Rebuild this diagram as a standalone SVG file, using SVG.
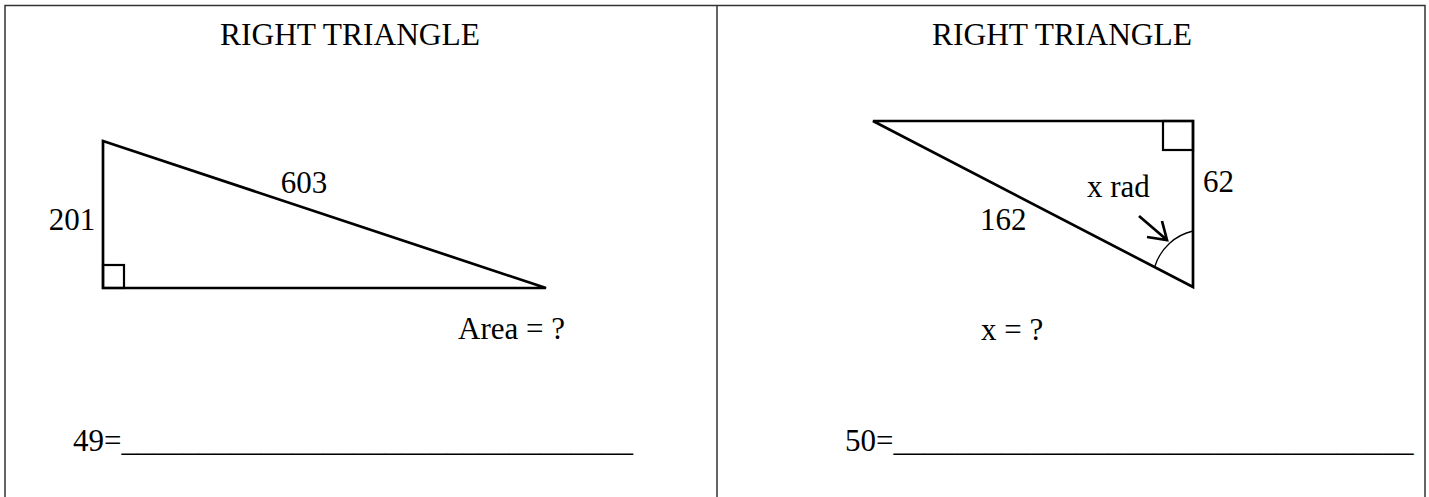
<svg xmlns="http://www.w3.org/2000/svg" width="1429" height="497" viewBox="0 0 1429 497">
<style>
.t{font-family:"Liberation Serif","Times New Roman",serif;font-size:31px;fill:#000}
.title{font-size:31px}
.frame{fill:none;stroke:#333;stroke-width:1.5}
.tri{fill:none;stroke:#000;stroke-width:2.7;stroke-linejoin:miter}
.thin{fill:none;stroke:#000;stroke-width:1.3}
.box{fill:none;stroke:#000;stroke-width:2.2}
</style>
<rect width="1429" height="497" fill="#fff"/>
<g id="frame">
<path class="frame" d="M5,510 V5.5 H1425 V510 M717,5.5 V510"/>
</g>
<g id="panel-left">
<text class="t title" x="350" y="45" text-anchor="middle" textLength="260" lengthAdjust="spacingAndGlyphs">RIGHT TRIANGLE</text>
<g id="triangle-left">
<polygon class="tri" points="103,141 546,288 103,288"/>
<rect class="box" x="103" y="265" width="21" height="23"/>
</g>
<text class="t" x="304" y="193" text-anchor="middle">603</text>
<text class="t" x="72" y="230" text-anchor="middle">201</text>
<text class="t" x="458" y="339">Area = ?</text>
<text class="t" x="73" y="451">49=<tspan>_________________________________</tspan></text>
</g>
<g id="panel-right">
<text class="t title" x="1062" y="45" text-anchor="middle" textLength="260" lengthAdjust="spacingAndGlyphs">RIGHT TRIANGLE</text>
<g id="triangle-right">
<polygon class="tri" points="873,121 1193,121 1193,287"/>
<rect class="box" x="1163" y="121" width="30" height="29"/>
<path class="thin" d="M1155,266 A52,52 0 0 1 1193,231"/>
</g>
<g id="connectors">
<path class="tri" d="M1139,216 L1167,240 M1147,237 L1167,240 L1162,221"/>
</g>
<text class="t" x="1087" y="197">x rad</text>
<text class="t" x="1203" y="192">62</text>
<text class="t" x="980" y="230">162</text>
<text class="t" x="981" y="340">x = ?</text>
<text class="t" x="845" y="451">50=<tspan textLength="520" lengthAdjust="spacingAndGlyphs">__________________________________</tspan></text>
</g>
</svg>
